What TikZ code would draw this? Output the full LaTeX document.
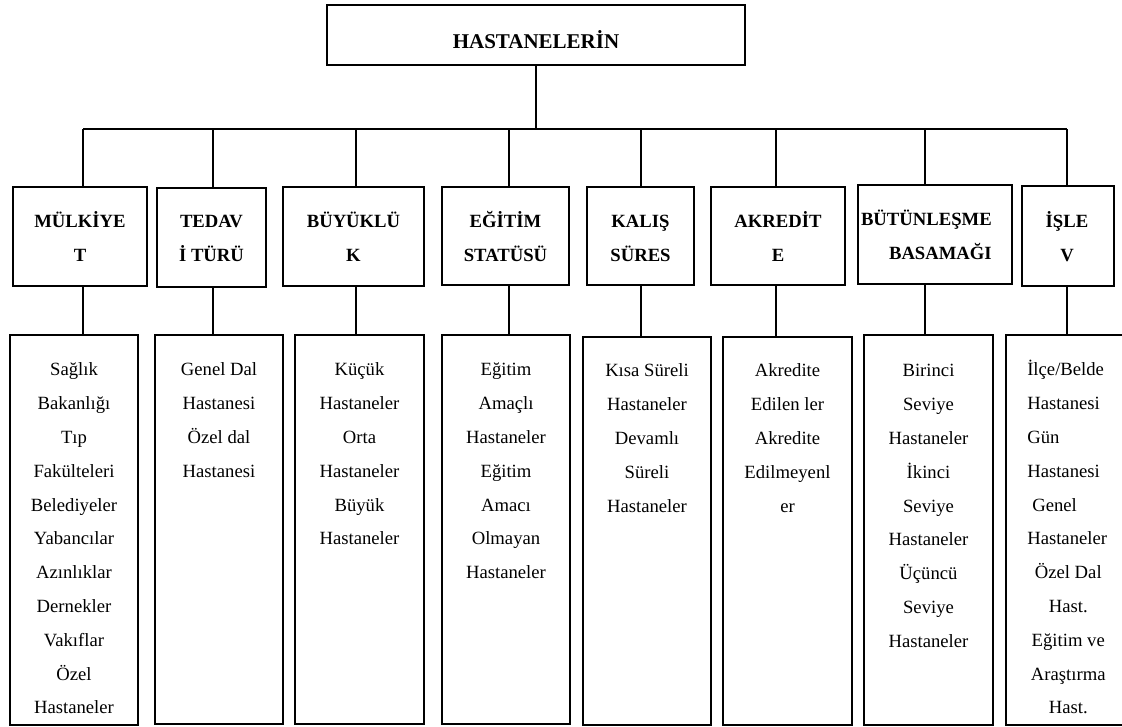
\documentclass[tikz,border=0pt]{standalone}
\usepackage{fontspec}
\setmainfont{Liberation Serif}
\usetikzlibrary{fit}
\tikzset{
  box/.style={draw, line width=0.9pt, inner sep=0pt, rectangle},
  conn/.style={line width=0.9pt},
  body/.style={inner sep=0pt, align=center, font=\fontsize{14pt}{25.35pt}\selectfont, anchor=north},
  head/.style={inner sep=0pt, align=center, font=\fontsize{14pt}{25.5pt}\selectfont\bfseries, anchor=north},
  toptext/.style={inner sep=0pt, font=\fontsize{15.75pt}{18pt}\selectfont\bfseries, anchor=base}
}
\begin{document}
\begin{tikzpicture}[x=0.75pt,y=-0.75pt]
\useasboundingbox (0,0) rectangle (1122,726);
\clip (0,0) rectangle (1122,726);

% root
\node[box, fit={(327,5) (745,65)}] (top) {};
\node[toptext] (toptxt) at (536,48) {HASTANELERİN};

% second level boxes
\node[box, fit={(13,187) (147,286)}] (h1) {};
\node[box, fit={(157,188) (266,287)}] (h2) {};
\node[box, fit={(283,187) (424,286)}] (h3) {};
\node[box, fit={(442,187) (569,285)}] (h4) {};
\node[box, fit={(587,187) (694,285)}] (h5) {};
\node[box, fit={(711,187) (845,285)}] (h6) {};
\node[box, fit={(858,185) (1012,284)}] (h7) {};
\node[box, fit={(1022,186) (1114,286)}] (h8) {};

\node[head] (ht1) at (80,203.2) {\strut MÜLKİYE\\T};
\node[head] (ht2) at (211.5,203.2) {\strut TEDAV\\İ TÜRÜ};
\node[head] (ht3) at (353.5,203.2) {\strut BÜYÜKLÜ\\K};
\node[head] (ht4) at (505.5,203.2) {\strut EĞİTİM\\STATÜSÜ};
\node[head] (ht5) at (640.5,203.2) {\strut KALIŞ\\SÜRES};
\node[head] (ht6) at (778,203.2) {\strut AKREDİT\\E};
\node[head, align=right, anchor=north east] (ht7) at (992,201.2) {\strut BÜTÜNLEŞME\\BASAMAĞI};
\node[head] (ht8) at (1067,203.2) {\strut İŞLE\\V};

% third level boxes
\node[box, fit={(10,335) (138,725)}] (b1) {};
\node[box, fit={(155,335) (283,724)}] (b2) {};
\node[box, fit={(295,335) (424,724)}] (b3) {};
\node[box, fit={(442,335) (570,724)}] (b4) {};
\node[box, fit={(583,337) (711,725)}] (b5) {};
\node[box, fit={(723,337) (852,725)}] (b6) {};
\node[box, fit={(864,335) (993,725)}] (b7) {};
\node[box, fit={(1006,335) (1135,725)}] (b8) {};

\node[body] (bt1) at (74,352) {\strut Sağlık\\Bakanlığı\\Tıp\\Fakülteleri\\Belediyeler\\Yabancılar\\Azınlıklar\\Dernekler\\Vakıflar\\Özel\\Hastaneler};
\node[body] (bt2) at (219,352) {\strut Genel Dal\\Hastanesi\\Özel dal\\Hastanesi};
\node[body] (bt3) at (359.5,352) {\strut Küçük\\Hastaneler\\Orta\\Hastaneler\\Büyük\\Hastaneler};
\node[body] (bt4) at (506,352) {\strut Eğitim\\Amaçlı\\Hastaneler\\Eğitim\\Amacı\\Olmayan\\Hastaneler};
\node[body] (bt5) at (647,353) {\strut Kısa Süreli\\Hastaneler\\Devamlı\\Süreli\\Hastaneler};
\node[body] (bt6) at (787.5,353) {\strut Akredite\\Edilen ler\\Akredite\\Edilmeyenl\\er};
\node[body] (bt7) at (928.5,353) {\strut Birinci\\Seviye\\Hastaneler\\İkinci\\Seviye\\Hastaneler\\Üçüncü\\Seviye\\Hastaneler};
\node[body, align=left, anchor=north west] (bt8) at (1027,352) {\strut İlçe/Belde\\Hastanesi\\Gün\\Hastanesi\\\hspace*{3.75pt}Genel\\Hastaneler\\\makebox[61.5pt]{Özel Dal}\\\makebox[61.5pt]{Hast.}\\\makebox[61.5pt]{Eğitim ve}\\\makebox[61.5pt]{Araştırma}\\\makebox[61.5pt]{Hast.}};

% connectors
\coordinate (c1) at (83,129);
\coordinate (c2) at (213,129);
\coordinate (c3) at (356,129);
\coordinate (c4) at (509,129);
\coordinate (c5) at (641,129);
\coordinate (c6) at (776,129);
\coordinate (c7) at (925,129);
\coordinate (c8) at (1067,129);
\draw[conn] (c1) -- (c8);
\draw[conn] (top.south) -- (top.south |- c1);
\foreach \i in {1,...,8}{
  \draw[conn] (c\i) -- (c\i |- h\i.north);
  \draw[conn] (c\i |- h\i.south) -- (c\i |- b\i.north);
}
\end{tikzpicture}
\end{document}
